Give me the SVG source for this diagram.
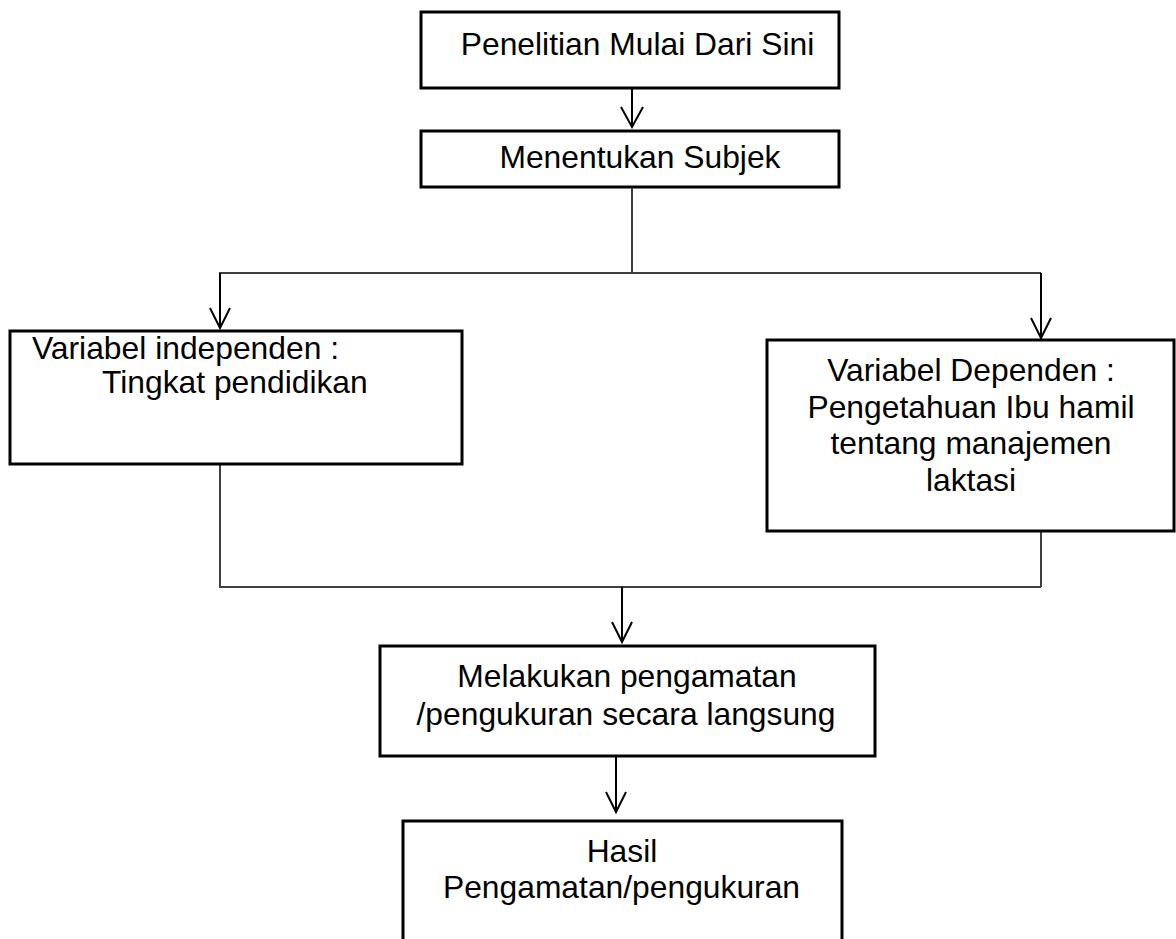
<svg xmlns="http://www.w3.org/2000/svg" width="1176" height="939" viewBox="0 0 1176 939">
<style>
.box{fill:#fff;stroke:#000;stroke-width:3}
.t{font-family:"Liberation Sans",Arial,sans-serif;font-size:31.8px;fill:#000}
.m{text-anchor:middle}
.ln{fill:none;stroke:#404040;stroke-width:2}
.ar{fill:none;stroke:#000;stroke-width:2}
</style>
<rect width="1176" height="939" fill="#fff"/>
<g id="connectors">
<path class="ln" d="M632,187 V273 M219,273 H1041 M220,464 V587 M1041,531 V587 M219,587 H1041"/>
<path class="ar" d="M632,88 V127 M621,107 L632,127 L643,107"/>
<path class="ar" d="M220,273 V328 M210,308 L220,328 L230,308"/>
<path class="ar" d="M1041,273 V338 M1031,318 L1041,338 L1051,318"/>
<path class="ar" d="M622,587 V642 M612,622 L622,642 L632,622"/>
<path class="ar" d="M616,757 V812 M606,792 L616,812 L626,792"/>
</g>
<g id="n1">
<rect class="box" x="421" y="12" width="418" height="76"/>
<text class="t m" x="637.5" y="55">Penelitian Mulai Dari Sini</text>
</g>
<g id="n2">
<rect class="box" x="421" y="131" width="418" height="56"/>
<text class="t m" x="640" y="168">Menentukan Subjek</text>
</g>
<g id="n3">
<rect class="box" x="10" y="331" width="452" height="133"/>
<text class="t" x="32" y="359">Variabel independen :</text>
<text class="t" x="102" y="392.5">Tingkat pendidikan</text>
</g>
<g id="n4">
<rect class="box" x="767" y="340" width="407" height="191"/>
<text class="t m" x="971" y="381">Variabel Dependen :</text>
<text class="t m" x="971" y="417.5">Pengetahuan Ibu hamil</text>
<text class="t m" x="971" y="454">tentang manajemen</text>
<text class="t m" x="971" y="490.5">laktasi</text>
</g>
<g id="n5">
<rect class="box" x="380" y="646" width="495" height="110"/>
<text class="t m" x="627" y="687">Melakukan pengamatan</text>
<text class="t m" x="626" y="725">/pengukuran secara langsung</text>
</g>
<g id="n6">
<rect class="box" x="403" y="821" width="439" height="130"/>
<text class="t m" x="622" y="862">Hasil</text>
<text class="t m" x="621.5" y="898">Pengamatan/pengukuran</text>
</g>
</svg>
